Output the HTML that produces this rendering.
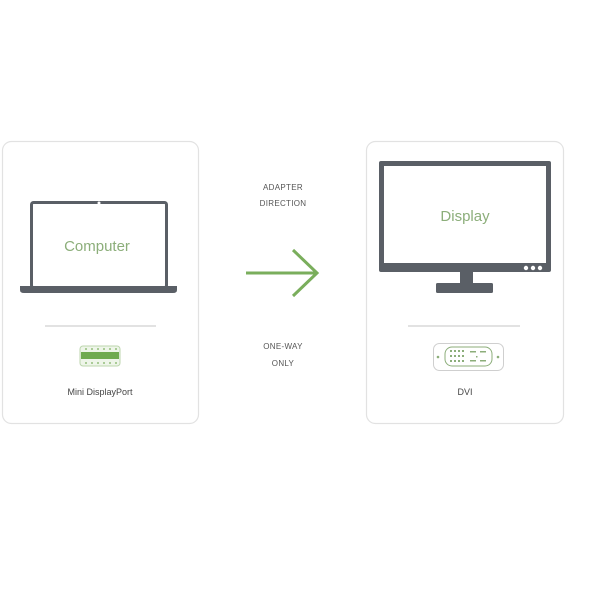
<!DOCTYPE html>
<html><head><style>
body{margin:0;width:600px;height:600px;background:#fff;overflow:hidden;font-family:"Liberation Sans",sans-serif}
</style></head><body>
<svg width="600" height="600" viewBox="0 0 600 600" xmlns="http://www.w3.org/2000/svg">
<rect x="2.5" y="141.5" width="196" height="282" rx="9" fill="#fff" stroke="#e2e2e2" stroke-width="1.2"/>
<rect x="366.5" y="141.5" width="197" height="282" rx="9" fill="#fff" stroke="#e2e2e2" stroke-width="1.2"/>
<!-- laptop -->
<rect x="31.5" y="202.5" width="135" height="85" rx="2" fill="#fff" stroke="#5a5f66" stroke-width="3"/>
<circle cx="99" cy="203" r="1.5" fill="#fff"/>
<path d="M20 286 H177 V290 Q177 293 173 293 H24 Q20 293 20 290 Z" fill="#5a5f66"/>
<text x="97" y="251" text-anchor="middle" font-size="15" fill="#8cae7a">Computer</text>
<line x1="45" y1="326" x2="156" y2="326" stroke="#d8d8d8" stroke-width="1.5"/>
<rect x="80" y="346" width="40" height="20" rx="3" fill="#eef5e9" stroke="#bcd6ad"/>
<rect x="81" y="352" width="38" height="7" fill="#6faa4f"/>
<g fill="#7aae5c"><circle cx="86" cy="349" r="0.9"/><circle cx="92" cy="349" r="0.9"/><circle cx="98" cy="349" r="0.9"/><circle cx="104" cy="349" r="0.9"/><circle cx="110" cy="349" r="0.9"/><circle cx="116" cy="349" r="0.9"/>
<circle cx="86" cy="363" r="0.9"/><circle cx="92" cy="363" r="0.9"/><circle cx="98" cy="363" r="0.9"/><circle cx="104" cy="363" r="0.9"/><circle cx="110" cy="363" r="0.9"/><circle cx="116" cy="363" r="0.9"/></g>
<text x="100" y="395" text-anchor="middle" font-size="9" fill="#444">Mini DisplayPort</text>
<!-- arrow -->
<text x="283" y="190" text-anchor="middle" font-size="8" fill="#555" letter-spacing="0.3">ADAPTER</text>
<text x="283" y="206" text-anchor="middle" font-size="8" fill="#555" letter-spacing="0.3">DIRECTION</text>
<g stroke="#7aae5c" stroke-width="3" fill="none"><line x1="246" y1="273" x2="317" y2="273"/><polyline points="293,250 317,273 293,296"/></g>
<text x="283" y="349" text-anchor="middle" font-size="8" fill="#555" letter-spacing="0.3">ONE-WAY</text>
<text x="283" y="366" text-anchor="middle" font-size="8" fill="#555" letter-spacing="0.3">ONLY</text>
<!-- monitor -->
<rect x="379" y="161" width="172" height="111" rx="2" fill="#5a5f66"/>
<rect x="384" y="166" width="162" height="97" fill="#fff"/>
<circle cx="526" cy="268" r="2.2" fill="#fff"/><circle cx="533" cy="268" r="2.2" fill="#fff"/><circle cx="540" cy="268" r="2.2" fill="#fff"/>
<rect x="460" y="271" width="13" height="13" fill="#5a5f66"/>
<rect x="436" y="283" width="57" height="10" rx="1.5" fill="#5a5f66"/>
<text x="465" y="221" text-anchor="middle" font-size="15" fill="#8cae7a">Display</text>
<line x1="408" y1="326" x2="520" y2="326" stroke="#d8d8d8" stroke-width="1.5"/>
<rect x="433.5" y="343.5" width="70" height="27" rx="6" fill="#fff" stroke="#cfcfcf"/>
<rect x="445" y="347" width="47" height="19" rx="7" fill="#fff" stroke="#8cae7a"/>
<circle cx="438" cy="357" r="1.3" fill="#8cae7a"/><circle cx="498" cy="357" r="1.3" fill="#8cae7a"/>
<g fill="#8cae7a"><rect x="450" y="350" width="2" height="2"/><rect x="454" y="350" width="2" height="2"/><rect x="458" y="350" width="2" height="2"/><rect x="462" y="350" width="2" height="2"/>
<rect x="450" y="355" width="2" height="2"/><rect x="454" y="355" width="2" height="2"/><rect x="458" y="355" width="2" height="2"/><rect x="462" y="355" width="2" height="2"/>
<rect x="450" y="360" width="2" height="2"/><rect x="454" y="360" width="2" height="2"/><rect x="458" y="360" width="2" height="2"/><rect x="462" y="360" width="2" height="2"/>
<rect x="470" y="351" width="6" height="1.5"/><rect x="480" y="351" width="6" height="1.5"/><rect x="476" y="356" width="1.5" height="1.5"/><rect x="470" y="360" width="6" height="1.5"/><rect x="480" y="360" width="6" height="1.5"/></g>
<text x="465" y="395" text-anchor="middle" font-size="9" fill="#444">DVI</text>
</svg>
</body></html>
